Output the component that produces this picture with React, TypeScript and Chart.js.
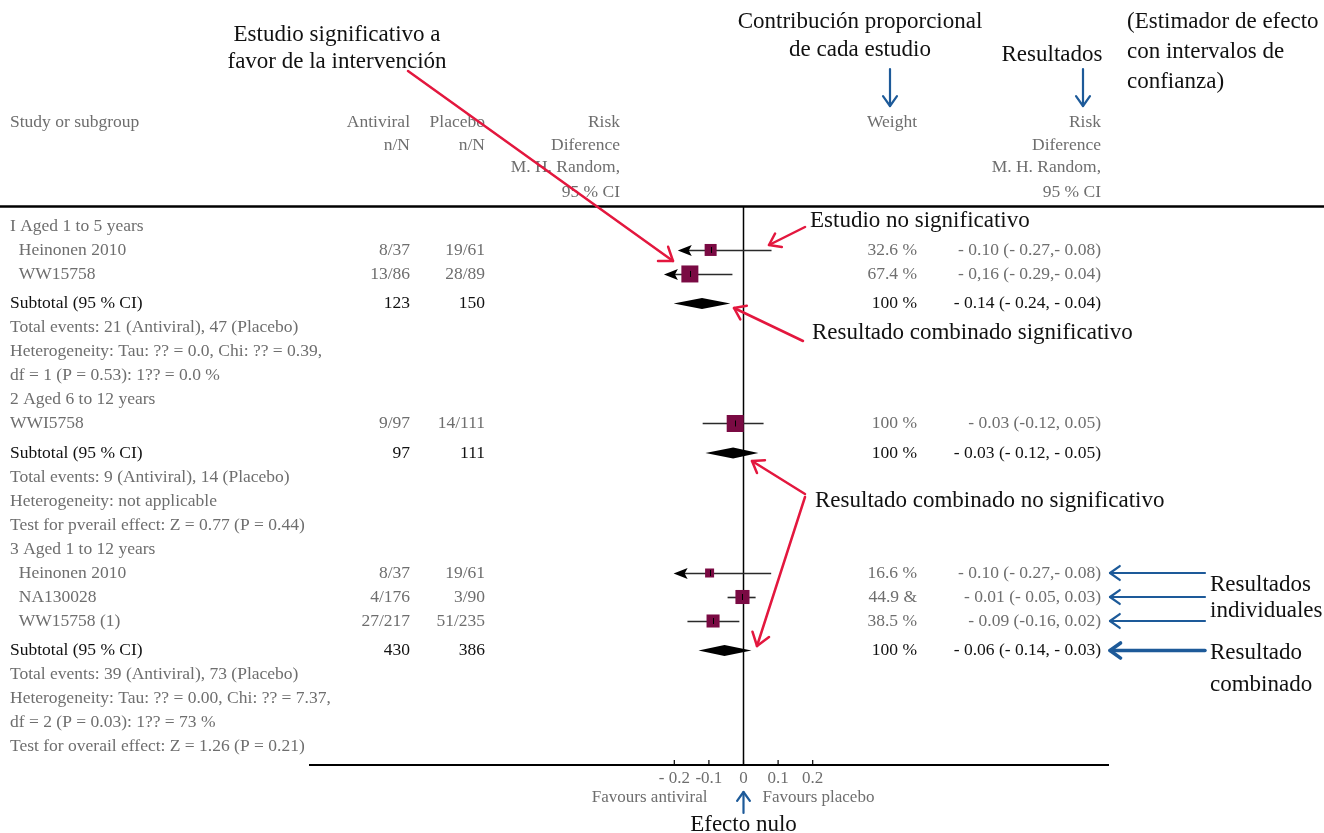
import React, { useEffect, useRef } from 'react';
import { Chart, registerables } from 'chart.js';
Chart.register(...registerables);

// ---------- Data ----------
const ROW_TEXT = [
  'I Aged 1 to 5 years',
  '  Heinonen 2010',
  '  WW15758',
  'Subtotal (95 % CI)',
  'Total events: 21 (Antiviral), 47 (Placebo)',
  'Heterogeneity: Tau: ?? = 0.0, Chi: ?? = 0.39,',
  'df = 1 (P = 0.53): 1?? = 0.0 %',
  '2 Aged 6 to 12 years',
  'WWI5758',
  'Subtotal (95 % CI)',
  'Total events: 9 (Antiviral), 14 (Placebo)',
  'Heterogeneity: not applicable',
  'Test for pverail effect: Z = 0.77 (P = 0.44)',
  '3 Aged 1 to 12 years',
  '  Heinonen 2010',
  '  NA130028',
  '  WW15758 (1)',
  'Subtotal (95 % CI)',
  'Total events: 39 (Antiviral), 73 (Placebo)',
  'Heterogeneity: Tau: ?? = 0.00, Chi: ?? = 7.37,',
  'df = 2 (P = 0.03): 1?? = 73 %',
  'Test for overail effect: Z = 1.26 (P = 0.21)',
];
const ROW_KIND = [
  'group', 'study', 'study', 'subtotal', 'info', 'info', 'info',
  'group', 'study', 'subtotal', 'info', 'info', 'info',
  'group', 'study', 'study', 'study', 'subtotal', 'info', 'info', 'info', 'info',
];

const STUDY_ROW = [1, 2, 8, 14, 15, 16];
const STUDY_ANTIVIRAL = ['8/37', '13/86', '9/97', '8/37', '4/176', '27/217'];
const STUDY_PLACEBO = ['19/61', '28/89', '14/111', '19/61', '3/90', '51/235'];
const STUDY_WEIGHT = [32.6, 67.4, 100, 16.6, 44.9, 38.5];
const STUDY_WEIGHT_LABEL = ['32.6 %', '67.4 %', '100 %', '16.6 %', '44.9 &', '38.5 %'];
const STUDY_RD_LABEL = [
  '- 0.10 (- 0.27,- 0.08)',
  '- 0,16 (- 0.29,- 0.04)',
  '- 0.03 (-0.12, 0.05)',
  '- 0.10 (- 0.27,- 0.08)',
  '- 0.01 (- 0.05, 0.03)',
  '- 0.09 (-0.16, 0.02)',
];
const STUDY_EST = [-0.095, -0.155, -0.024, -0.098, -0.003, -0.088];
const STUDY_LOW = [-0.19, -0.23, -0.118, -0.202, -0.046, -0.162];
const STUDY_HIGH = [0.081, -0.032, 0.058, 0.08, 0.035, -0.012];
const STUDY_CLIPPED = [true, true, false, true, false, false];

const SUB_ROW = [3, 9, 17];
const SUB_ANTIVIRAL = ['123', '97', '430'];
const SUB_PLACEBO = ['150', '111', '386'];
const SUB_WEIGHT_LABEL = ['100 %', '100 %', '100 %'];
const SUB_RD_LABEL = ['- 0.14 (- 0.24, - 0.04)', '- 0.03 (- 0.12, - 0.05)', '- 0.06 (- 0.14, - 0.03)'];
const SUB_EST = [-0.12, -0.03, -0.055];
const SUB_LOW = [-0.202, -0.11, -0.13];
const SUB_HIGH = [-0.038, 0.043, 0.023];

const TICK_VALUES = [-0.2, -0.1, 0, 0.1, 0.2];
const TICK_LABELS = ['- 0.2', '-0.1', '0', '0.1', '0.2'];

const HEADER_STUDY = ['Study or subgroup'];
const HEADER_ANTIVIRAL = ['Antiviral', 'n/N'];
const HEADER_PLACEBO = ['Placebo', 'n/N'];
const HEADER_RD = ['Risk', 'Diference', 'M. H. Random,', '95 % CI'];
const HEADER_WEIGHT = ['Weight'];

// ---------- Layout ----------
const W = 1324;
const H = 833;
const ROW0 = 0.79;
const SUB_GAP = 0.23;
const ROW_POS: number[] = (() => {
  let extra = 0;
  return ROW_KIND.map((k, i) => {
    if (k === 'subtotal') extra += SUB_GAP;
    return ROW0 + i + extra;
  });
})();
const HEADER_POS = [-3.54, -2.58, -1.63, -0.625];

const GRAY = '#6e6e6e';
const INK = '#111111';
const MAROON = '#7a0a43';
const RED = '#e3173e';
const BLUE = '#1d5a99';
const FONT = '"Liberation Serif", "DejaVu Serif", serif';

const COL_NAME = 10;
const COL_ANT = 410;
const COL_PLA = 485;
const COL_RDL = 620;
const COL_WEIGHT = 917;
const COL_RDR = 1101;

function squareSide(w: number) {
  return Math.max(9, Math.min(17, 2.1 * Math.sqrt(w)));
}

function arrow(ctx: CanvasRenderingContext2D, x1: number, y1: number, x2: number, y2: number, color: string, width: number, head: number) {
  const ang = Math.atan2(y2 - y1, x2 - x1);
  ctx.save();
  ctx.strokeStyle = color;
  ctx.lineWidth = width;
  ctx.lineCap = 'round';
  ctx.lineJoin = 'round';
  ctx.beginPath();
  ctx.moveTo(x1, y1);
  ctx.lineTo(x2, y2);
  ctx.stroke();
  const a = 0.62;
  ctx.beginPath();
  ctx.moveTo(x2 - head * Math.cos(ang - a), y2 - head * Math.sin(ang - a));
  ctx.lineTo(x2, y2);
  ctx.lineTo(x2 - head * Math.cos(ang + a), y2 - head * Math.sin(ang + a));
  ctx.stroke();
  ctx.restore();
}

function text(ctx: CanvasRenderingContext2D, s: string, x: number, y: number, align: CanvasTextAlign, color: string, size: number) {
  ctx.font = `${size}px ${FONT}`;
  ctx.fillStyle = color;
  ctx.textAlign = align;
  ctx.textBaseline = 'middle';
  ctx.fillText(s, x, y);
}

const forestPlugin = {
  id: 'forest',
  beforeDatasetsDraw(chart: any) {
    const { ctx, chartArea, scales } = chart;
    const x = scales.x;
    const y = scales.y;
    ctx.save();
    const x0 = x.getPixelForValue(0);
    ctx.strokeStyle = '#000';
    ctx.lineWidth = 1.5;
    ctx.beginPath();
    ctx.moveTo(x0, chartArea.top);
    ctx.lineTo(x0, chartArea.bottom);
    ctx.stroke();
    STUDY_EST.forEach((_, i) => {
      const yy = Math.round(y.getPixelForValue(ROW_POS[STUDY_ROW[i]])) + 0.5;
      const xl = x.getPixelForValue(STUDY_LOW[i]);
      const xh = x.getPixelForValue(STUDY_HIGH[i]);
      ctx.strokeStyle = '#2a2a2a';
      ctx.lineWidth = 1.6;
      ctx.beginPath();
      ctx.moveTo(STUDY_CLIPPED[i] ? xl + 10 : xl, yy);
      ctx.lineTo(xh, yy);
      ctx.stroke();
      if (STUDY_CLIPPED[i]) {
        ctx.fillStyle = '#000';
        ctx.beginPath();
        ctx.moveTo(xl, yy);
        ctx.lineTo(xl + 14, yy - 5.5);
        ctx.lineTo(xl + 11, yy);
        ctx.lineTo(xl + 14, yy + 5.5);
        ctx.closePath();
        ctx.fill();
      }
    });
    SUB_EST.forEach((est, i) => {
      const yy = y.getPixelForValue(ROW_POS[SUB_ROW[i]]);
      const xl = x.getPixelForValue(SUB_LOW[i]);
      const xc = x.getPixelForValue(est);
      const xh = x.getPixelForValue(SUB_HIGH[i]);
      ctx.fillStyle = '#000';
      ctx.beginPath();
      ctx.moveTo(xl, yy);
      ctx.lineTo(xc, yy - 5.5);
      ctx.lineTo(xh, yy);
      ctx.lineTo(xc, yy + 5.5);
      ctx.closePath();
      ctx.fill();
    });
    ctx.restore();
  },
  afterDatasetsDraw(chart: any) {
    const { ctx, scales } = chart;
    const x = scales.x;
    const y = scales.y;
    ctx.save();
    ctx.strokeStyle = '#000';
    ctx.lineWidth = 1;
    STUDY_EST.forEach((est, i) => {
      const xx = Math.round(x.getPixelForValue(est)) + 0.5;
      const yy = y.getPixelForValue(ROW_POS[STUDY_ROW[i]]);
      ctx.beginPath();
      ctx.moveTo(xx, yy - 3);
      ctx.lineTo(xx, yy + 3);
      ctx.stroke();
    });
    ctx.restore();
  },
  afterDraw(chart: any) {
    const { ctx, chartArea, scales } = chart;
    const x = scales.x;
    const y = scales.y;
    ctx.save();
    ctx.strokeStyle = '#000';
    ctx.lineWidth = 2.5;
    ctx.beginPath();
    ctx.moveTo(0, chartArea.top - 0.5);
    ctx.lineTo(W, chartArea.top - 0.5);
    ctx.stroke();
    ctx.lineWidth = 1.2;
    TICK_VALUES.forEach((v) => {
      const xx = x.getPixelForValue(v);
      ctx.beginPath();
      ctx.moveTo(xx, chartArea.bottom);
      ctx.lineTo(xx, chartArea.bottom - 5);
      ctx.stroke();
    });

    const fs = 17.5;
    const hy = (i: number) => y.getPixelForValue(HEADER_POS[i]);
    HEADER_STUDY.forEach((s, i) => text(ctx, s, COL_NAME, hy(i), 'left', GRAY, fs));
    HEADER_ANTIVIRAL.forEach((s, i) => text(ctx, s, COL_ANT, hy(i), 'right', GRAY, fs));
    HEADER_PLACEBO.forEach((s, i) => text(ctx, s, COL_PLA, hy(i), 'right', GRAY, fs));
    HEADER_RD.forEach((s, i) => text(ctx, s, COL_RDL, hy(i), 'right', GRAY, fs));
    HEADER_WEIGHT.forEach((s, i) => text(ctx, s, COL_WEIGHT, hy(i), 'right', GRAY, fs));
    HEADER_RD.forEach((s, i) => text(ctx, s, COL_RDR, hy(i), 'right', GRAY, fs));

    ROW_TEXT.forEach((s, i) => {
      const col = ROW_KIND[i] === 'subtotal' ? INK : GRAY;
      text(ctx, s, COL_NAME, y.getPixelForValue(ROW_POS[i]), 'left', col, fs);
    });
    STUDY_ROW.forEach((r, i) => {
      const yy = y.getPixelForValue(ROW_POS[r]);
      text(ctx, STUDY_ANTIVIRAL[i], COL_ANT, yy, 'right', GRAY, fs);
      text(ctx, STUDY_PLACEBO[i], COL_PLA, yy, 'right', GRAY, fs);
      text(ctx, STUDY_WEIGHT_LABEL[i], COL_WEIGHT, yy, 'right', GRAY, fs);
      text(ctx, STUDY_RD_LABEL[i], COL_RDR, yy, 'right', GRAY, fs);
    });
    SUB_ROW.forEach((r, i) => {
      const yy = y.getPixelForValue(ROW_POS[r]);
      text(ctx, SUB_ANTIVIRAL[i], COL_ANT, yy, 'right', INK, fs);
      text(ctx, SUB_PLACEBO[i], COL_PLA, yy, 'right', INK, fs);
      text(ctx, SUB_WEIGHT_LABEL[i], COL_WEIGHT, yy, 'right', INK, fs);
      text(ctx, SUB_RD_LABEL[i], COL_RDR, yy, 'right', INK, fs);
    });

    const x0 = x.getPixelForValue(0);
    text(ctx, 'Favours antiviral', x0 - 36, 798, 'right', GRAY, 17);
    text(ctx, 'Favours placebo', x0 + 19, 798, 'left', GRAY, 17);

    const af = 23;
    text(ctx, 'Estudio significativo a', 337, 35, 'center', INK, af);
    text(ctx, 'favor de la intervención', 337, 62, 'center', INK, af);
    text(ctx, 'Contribución proporcional', 860, 22, 'center', INK, af);
    text(ctx, 'de cada estudio', 860, 50, 'center', INK, af);
    text(ctx, 'Resultados', 1052, 55, 'center', INK, af);
    text(ctx, '(Estimador de efecto', 1127, 22, 'left', INK, af);
    text(ctx, 'con intervalos de', 1127, 52, 'left', INK, af);
    text(ctx, 'confianza)', 1127, 82, 'left', INK, af);
    text(ctx, 'Estudio no significativo', 810, 221, 'left', INK, af);
    text(ctx, 'Resultado combinado significativo', 812, 333, 'left', INK, af);
    text(ctx, 'Resultado combinado no significativo', 815, 501, 'left', INK, af);
    text(ctx, 'Resultados', 1210, 585, 'left', INK, af);
    text(ctx, 'individuales', 1210, 611, 'left', INK, af);
    text(ctx, 'Resultado', 1210, 653, 'left', INK, af);
    text(ctx, 'combinado', 1210, 685, 'left', INK, af);
    text(ctx, 'Efecto nulo', x0, 825, 'center', INK, af);

    arrow(ctx, 408, 71, 673, 261, RED, 2.5, 15);
    arrow(ctx, 805, 227, 769, 245, RED, 2.5, 13);
    arrow(ctx, 803, 341, 734, 308, RED, 2.5, 13);
    arrow(ctx, 805, 494, 752, 461, RED, 2.5, 13);
    arrow(ctx, 805, 497, 757, 646, RED, 2.5, 15);

    arrow(ctx, 890, 69, 890, 106, BLUE, 2.2, 12);
    arrow(ctx, 1083, 69, 1083, 106, BLUE, 2.2, 12);
    arrow(ctx, x0, 813, x0, 792, BLUE, 2.2, 11);
    [3, 4, 5].forEach((si) => {
      const yy = y.getPixelForValue(ROW_POS[STUDY_ROW[si]]);
      arrow(ctx, 1205, yy, 1110, yy, BLUE, 2.2, 12);
    });
    const ys = y.getPixelForValue(ROW_POS[SUB_ROW[2]]);
    arrow(ctx, 1205, ys, 1110, ys, BLUE, 3.5, 13);
    ctx.restore();
  },
};

export default function App() {
  const ref = useRef<HTMLCanvasElement | null>(null);
  useEffect(() => {
    if (!ref.current) return;
    const x0px = 743.5;
    const left = 310;
    const right = 1108;
    const pxPerUnit = 346;
    const chart = new Chart(ref.current, {
      type: 'scatter',
      data: {
        datasets: [
          {
            label: 'Studies',
            data: STUDY_EST.map((e, i) => ({ x: e, y: ROW_POS[STUDY_ROW[i]] })),
            pointStyle: 'rect',
            pointRadius: STUDY_WEIGHT.map((w) => squareSide(w) / Math.SQRT2),
            backgroundColor: MAROON,
            borderWidth: 0,
          },
        ],
      },
      plugins: [forestPlugin],
      options: {
        animation: false,
        responsive: false,
        layout: { padding: { left, right: W - right, top: 207, bottom: H - 765 - 24 } },
        plugins: { legend: { display: false }, tooltip: { enabled: false } },
        scales: {
          x: {
            type: 'linear',
            min: (left - x0px) / pxPerUnit,
            max: (right - x0px) / pxPerUnit,
            afterBuildTicks: (s: any) => {
              s.ticks = TICK_VALUES.map((v) => ({ value: v }));
            },
            afterFit: (s: any) => {
              s.height = 24;
            },
            grid: { display: false, drawTicks: false },
            border: { display: true, color: '#000', width: 2 },
            ticks: {
              callback: (_v: any, i: number) => TICK_LABELS[i],
              color: GRAY,
              font: { family: FONT, size: 17 },
              padding: 3,
              autoSkip: false,
              maxRotation: 0,
            },
          },
          y: {
            type: 'linear',
            min: 0,
            max: 23.25,
            reverse: true,
            display: false,
          },
        },
      },
    });
    return () => chart.destroy();
  }, []);
  return (
    <div style={{ position: 'fixed', left: 0, top: 0, width: W, height: H, background: '#fff' }}>
      <canvas ref={ref} width={W} height={H} style={{ display: 'block' }} />
    </div>
  );
}
